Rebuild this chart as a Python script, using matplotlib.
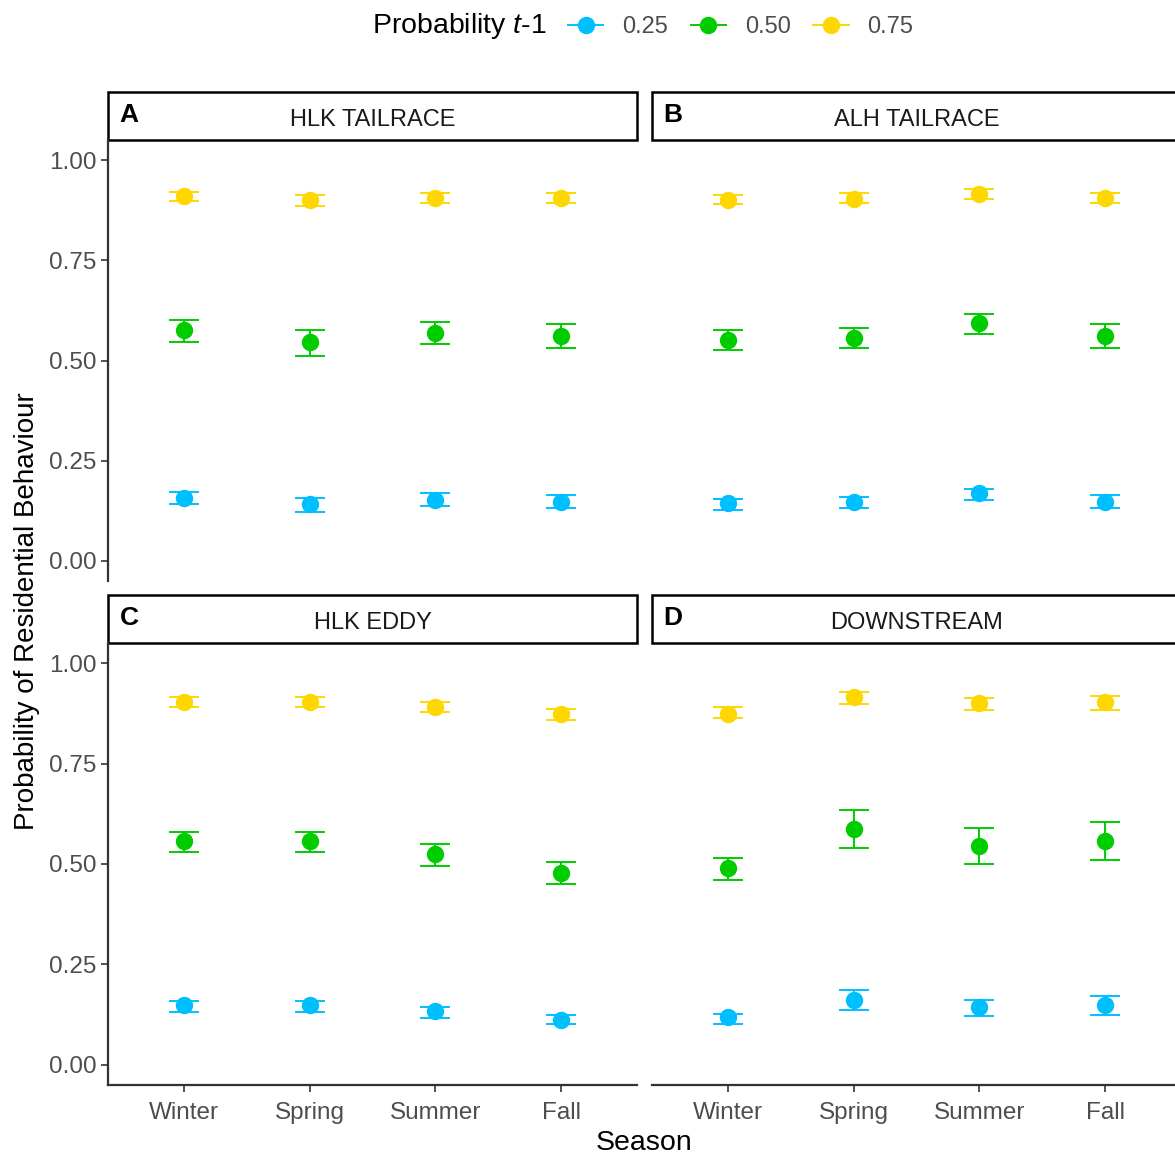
import matplotlib

matplotlib.use("Agg")
import matplotlib.pyplot as plt
from matplotlib.lines import Line2D
from matplotlib.patches import Rectangle

plt.rcParams["font.family"] = ["Liberation Sans", "DejaVu Sans"]
plt.rcParams["mathtext.fontset"] = "custom"
plt.rcParams["mathtext.it"] = "Liberation Sans:italic"
plt.rcParams["mathtext.rm"] = "Liberation Sans"

SEASONS = ["Winter", "Spring", "Summer", "Fall"]
LEVELS = ["0.25", "0.50", "0.75"]
COLORS = ["#00BFFF", "#00CC00", "#FFD700"]
PANEL_NAMES = ["HLK TAILRACE", "ALH TAILRACE", "HLK EDDY", "DOWNSTREAM"]
PANEL_LETTERS = ["A", "B", "C", "D"]

# rows: prob t-1 = 0.25, 0.50, 0.75 ; columns: seasons
hlk_tailrace_mean = [[0.156, 0.141, 0.152, 0.148], [0.576, 0.547, 0.568, 0.562], [0.910, 0.900, 0.906, 0.906]]
hlk_tailrace_lo = [[0.141, 0.123, 0.137, 0.133], [0.547, 0.512, 0.541, 0.531], [0.898, 0.886, 0.894, 0.894]]
hlk_tailrace_hi = [[0.173, 0.158, 0.169, 0.165], [0.601, 0.576, 0.597, 0.592], [0.921, 0.913, 0.917, 0.917]]

alh_tailrace_mean = [[0.144, 0.148, 0.169, 0.148], [0.551, 0.557, 0.593, 0.562], [0.900, 0.904, 0.916, 0.906]]
alh_tailrace_lo = [[0.127, 0.133, 0.152, 0.133], [0.526, 0.531, 0.566, 0.531], [0.890, 0.894, 0.904, 0.894]]
alh_tailrace_hi = [[0.154, 0.159, 0.179, 0.165], [0.576, 0.582, 0.617, 0.592], [0.913, 0.917, 0.927, 0.917]]

hlk_eddy_mean = [[0.149, 0.149, 0.133, 0.112], [0.556, 0.556, 0.525, 0.477], [0.904, 0.904, 0.890, 0.873]]
hlk_eddy_lo = [[0.131, 0.131, 0.117, 0.101], [0.530, 0.530, 0.495, 0.450], [0.891, 0.891, 0.878, 0.859]]
hlk_eddy_hi = [[0.158, 0.158, 0.144, 0.123], [0.580, 0.580, 0.550, 0.506], [0.915, 0.915, 0.904, 0.885]]

downstream_mean = [[0.118, 0.162, 0.143, 0.149], [0.491, 0.586, 0.546, 0.556], [0.873, 0.915, 0.900, 0.904]]
downstream_lo = [[0.102, 0.137, 0.122, 0.123], [0.460, 0.541, 0.500, 0.510], [0.864, 0.898, 0.883, 0.883]]
downstream_hi = [[0.127, 0.187, 0.162, 0.172], [0.516, 0.634, 0.590, 0.605], [0.890, 0.929, 0.914, 0.918]]

PANEL_DATA = [
    (hlk_tailrace_mean, hlk_tailrace_lo, hlk_tailrace_hi),
    (alh_tailrace_mean, alh_tailrace_lo, alh_tailrace_hi),
    (hlk_eddy_mean, hlk_eddy_lo, hlk_eddy_hi),
    (downstream_mean, downstream_lo, downstream_hi),
]

W, H = 1175, 1158
TEXT_GREY = "#4D4D4D"
AXIS_GREY = "#333333"

fig = plt.figure(figsize=(W / 100, H / 100), dpi=100)

# panel boxes in pixels: (left, top, width, height)
boxes = [(108, 140, 529, 441), (652, 140, 529, 441), (108, 643, 529, 442), (652, 643, 529, 442)]
strip_h = 48

for i, (left, top, w, h) in enumerate(boxes):
    ax = fig.add_axes([left / W, 1 - (top + h) / H, w / W, h / H])
    mean, lo, hi = PANEL_DATA[i]
    xs = range(1, len(SEASONS) + 1)
    for k, color in enumerate(COLORS):
        yerr = [[m - l for m, l in zip(mean[k], lo[k])], [u - m for m, u in zip(mean[k], hi[k])]]
        ax.errorbar(xs, mean[k], yerr=yerr, fmt="o", color=color, ms=11.5, elinewidth=1.4,
                    capsize=11, capthick=1.4, zorder=3)
    ax.set_xlim(0.4, 4.6)
    ax.set_ylim(-0.05, 1.05)
    for s in ("top", "right"):
        ax.spines[s].set_visible(False)
    col, row = i % 2, i // 2
    ax.spines["left"].set_visible(col == 0)
    ax.spines["bottom"].set_visible(row == 1)
    for s in ("left", "bottom"):
        ax.spines[s].set_color(AXIS_GREY)
        ax.spines[s].set_linewidth(1.6)
    ax.tick_params(colors=AXIS_GREY, labelcolor=TEXT_GREY, labelsize=17.5, length=5, width=1.2)
    ax.set_yticks([0, 0.25, 0.5, 0.75, 1.0])
    ax.set_yticklabels(["0.00", "0.25", "0.50", "0.75", "1.00"])
    ax.set_xticks(list(xs))
    ax.set_xticklabels(SEASONS)
    if col == 1:
        ax.tick_params(axis="y", left=False, labelleft=False)
    if row == 0:
        ax.tick_params(axis="x", bottom=False, labelbottom=False)
    ax.tick_params(axis="x", pad=7)

    # facet strip
    sh = strip_h / h
    ax.add_patch(Rectangle((0, 1), 1, sh, transform=ax.transAxes, clip_on=False,
                           facecolor="white", edgecolor="black", linewidth=1.8))
    ax.text(0.04, 1 + sh * 0.52, PANEL_LETTERS[i], transform=ax.transAxes, fontsize=19,
            fontweight="bold", ha="center", va="center", color="black")
    ax.text(0.5, 1 + sh * 0.42, PANEL_NAMES[i], transform=ax.transAxes, fontsize=17,
            ha="center", va="center", color="#1A1A1A")

fig.text(27 / W, 1 - 611 / H, "Probability of Residential Behaviour", rotation=90,
         ha="center", va="center", fontsize=20, color="black")
fig.text(644 / W, 1 - 1143 / H, "Season", ha="center", va="center", fontsize=20.5, color="black")

# legend
fig.text(372 / W, 1 - 26 / H, r"Probability $\mathit{t}$-$\mathit{1}$", ha="left", va="center",
         fontsize=20.5, color="black")
handles = [Line2D([0], [0], color=c, marker="o", ms=11.5, lw=1.4) for c in COLORS]
fig.legend(handles, LEVELS, loc="center left", bbox_to_anchor=(568 / W, 1 - 27 / H), ncol=3,
           frameon=False, fontsize=17, handlelength=1.5, handletextpad=0.8, columnspacing=0.95,
           labelcolor=TEXT_GREY, borderaxespad=0, borderpad=0)

fig.savefig("out.png", dpi=100)
